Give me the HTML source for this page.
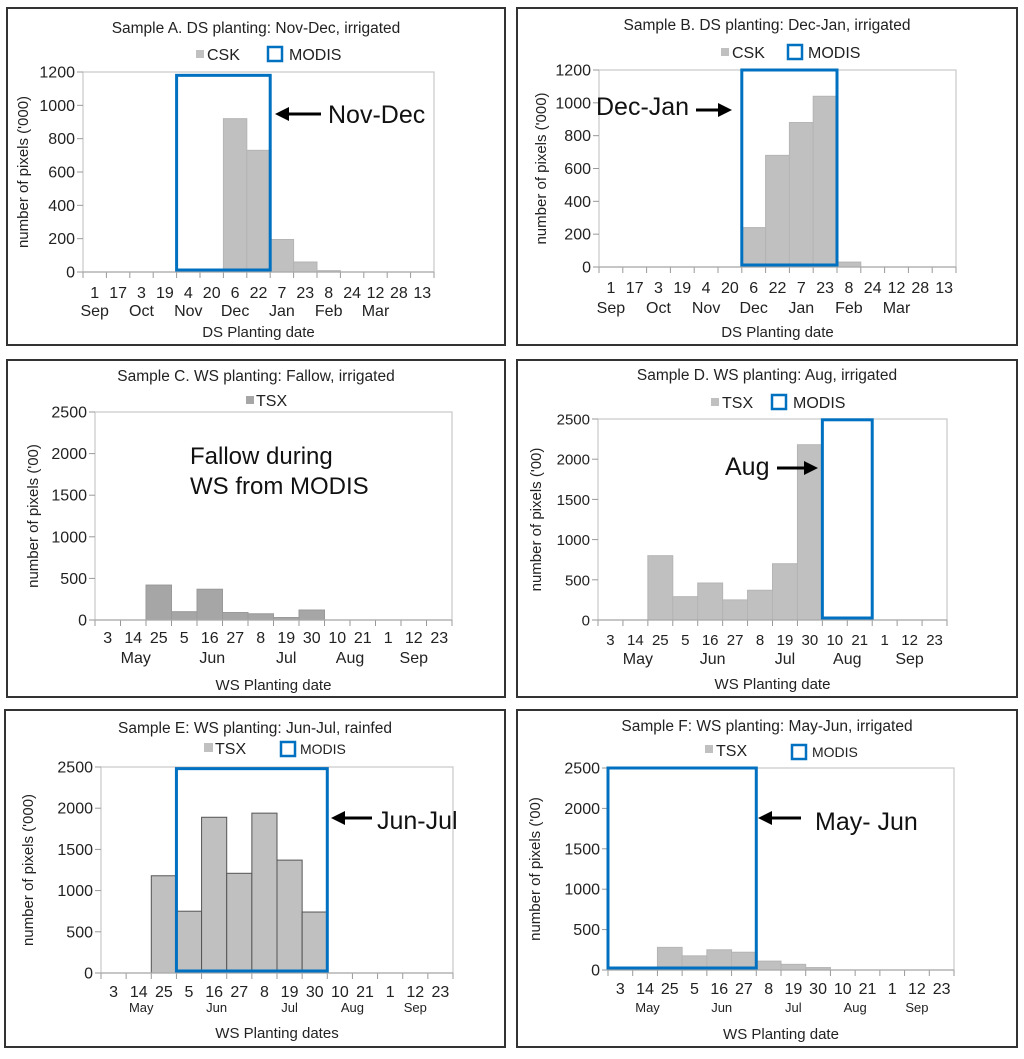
<!DOCTYPE html>
<html><head><meta charset="utf-8"><style>
html,body{margin:0;padding:0;background:#fff;}
svg{display:block;font-family:"Liberation Sans",Arial,sans-serif;}
</style></head><body>
<svg id="fig" width="1024" height="1059" viewBox="0 0 1024 1059" xmlns="http://www.w3.org/2000/svg"></svg>
<script>
// ---- Data ----
const dsCats = ["1","17","3","19","4","20","6","22","7","23","8","24","12","28","13"];
const dsMonths = ["Sep","Oct","Nov","Dec","Jan","Feb","Mar"];
const dsMonthPos = [0.5,2.5,4.5,6.5,8.5,10.5,12.5];
const dsTicksY = [0,200,400,600,800,1000,1200];
const wsCats = ["3","14","25","5","16","27","8","19","30","10","21","1","12","23"];
const wsMonths = ["May","Jun","Jul","Aug","Sep"];
const wsMonthPos = [1.6,4.6,7.5,10,12.5];
const wsTicksY = [0,500,1000,1500,2000,2500];

const valuesA = [0,0,0,0,0,0,920,730,195,60,8,0,0,0,0];
const modisA = [4,8,1180];
const valuesB = [0,0,0,0,0,0,240,680,880,1040,30,0,0,0,0];
const modisB = [6,10,1200];
const valuesC = [0,0,420,100,370,90,75,30,120,0,0,0,0,0];
const valuesD = [0,0,800,290,460,250,370,700,2180,0,0,0,0,0];
const modisD = [9,11,2490];
const valuesE = [0,0,1180,750,1890,1210,1940,1370,740,0,0,0,0,0];
const modisE = [3,9,2480];
const valuesF = [0,0,280,175,250,220,110,70,30,0,0,0,0,0];
const modisF = [0,6,2500];

const NS="http://www.w3.org/2000/svg";
const fig=document.getElementById('fig');
function mk(tag,attrs,parent,text){const e=document.createElementNS(NS,tag);for(const k in attrs)e.setAttribute(k,attrs[k]);if(text!==undefined)e.textContent=text;(parent||fig).appendChild(e);return e;}

function chart(c){
  const g=mk('g',{});
  
  
  const fr=mk('rect',{x:c.box[0],y:c.box[1],width:c.box[2]-c.box[0],height:c.box[3]-c.box[1],fill:'#fff',stroke:'#333','stroke-width':2},g);
  
  
  const cx=(c.box[0]+c.box[2])/2;
  const t=mk('text',{x:c.titleX||cx,y:c.titleY,'font-size':15.5,'text-anchor':'middle',fill:'#222'},g,c.title);
  
  
  const [x0,x1,y0,y1]=c.plot;
  const n=c.cats.length, w=(x1-x0)/n, ymax=c.ticksY[c.ticksY.length-1];
  const X=i=>x0+i*w;
  const Y=v=>y1-(v/ymax)*(y1-y0);
  const pr=mk('rect',{x:x0,y:y0,width:x1-x0,height:y1-y0,fill:'none',stroke:'#c8c8c8','stroke-width':1.2},g);
  
  
  c.ticksY.forEach(v=>{
    mk('line',{x1:x0-6,x2:x0,y1:Y(v),y2:Y(v),stroke:'#999'},g);
    const tl=mk('text',{x:x0-8,y:Y(v)+5.5,'font-size':c.tickFs||16,'text-anchor':'end',fill:'#222'},g,String(v));
    
    
  });
  for(let i=0;i<=n;i++) mk('line',{x1:X(i),x2:X(i),y1:y1,y2:y1+6,stroke:'#999'},g);
  c.cats.forEach((s,i)=>{
    const tl=mk('text',{x:X(i+0.5),y:c.tickLabY,'font-size':c.tickFs||16,'text-anchor':'middle',fill:'#222'},g,s);
    
    
  });
  c.months.forEach((m,i)=>{
    const ml=mk('text',{x:X(c.monthPos[i]),y:c.monthY,'font-size':c.monthFs||16,'text-anchor':'middle',fill:'#222'},g,m);
    
    
  });
  c.values.forEach((v,i)=>{
    if(v<=0)return;
    const b=mk('rect',{x:X(i),y:Y(v),width:w,height:y1-Y(v),fill:c.barFill,stroke:c.barStroke,'stroke-width':c.barStrokeW||1},g);
    
    
  });
  mk('line',{x1:x0-6,x2:x1,y1:y1,y2:y1,stroke:'#aaa','stroke-width':1.2},g);
  if(c.modis){
    const [a,b,top]=c.modis;
    const m=mk('rect',{x:X(a),y:Y(top),width:X(b)-X(a),height:(y1-2)-Y(top),fill:'none',stroke:'#0070c0','stroke-width':3},g);
    
    
  }
  const yt=mk('text',{x:0,y:0,'font-size':15,'text-anchor':'middle',fill:'#222',transform:`translate(${c.yLabX},${(y0+y1)/2}) rotate(-90)`},g,c.yLabel);
  
  
  const xt=mk('text',{x:(x0+x1)/2,y:c.xTitleY,'font-size':15,'text-anchor':'middle',fill:'#222'},g,c.xLabel);
  
  
  const L=c.legend;
  const ls=mk('rect',{x:L.sq[0],y:L.sq[1],width:L.sq[2],height:L.sq[2],fill:c.barFill,stroke:c.legStroke||'none'},g);
  
  
  const lt=mk('text',{x:L.t1[0],y:L.t1[1],'font-size':L.fs||16,fill:'#222'},g,L.label);
  
  
  if(L.mb){
    const mb=mk('rect',{x:L.mb[0],y:L.mb[1],width:L.mb[2],height:L.mb[2],fill:'none',stroke:'#0070c0','stroke-width':2.5},g);
    
    
    const mt=mk('text',{x:L.t2[0],y:L.t2[1],'font-size':L.fs2||L.fs||16,fill:'#222'},g,'MODIS');
    
    
  }
  if(c.ann){
    const A=c.ann;
    A.lines.forEach((s,i)=>{
      const at=mk('text',{x:A.x,y:A.y+i*30,'font-size':A.fs||25,fill:'#111'},g,s);
      
      
    });
    if(A.arrow){
      const [ax1,ax2,ay]=A.arrow;
      const dir=ax2>ax1?1:-1;
      mk('line',{x1:ax1,y1:ay,x2:ax2-dir*12,y2:ay,stroke:'#000','stroke-width':3},g);
      const ah=mk('polygon',{points:`${ax2},${ay} ${ax2-dir*14},${ay-7} ${ax2-dir*14},${ay+7}`,fill:'#000'},g);
      
      
    }
  }
}

chart({name:'chart-sample-a',box:[7,8,505,345],title:'Sample A. DS planting: Nov-Dec, irrigated',titleY:33,
  plot:[83,434,72,272],cats:dsCats,values:valuesA,modis:modisA,ticksY:dsTicksY,months:dsMonths,monthPos:dsMonthPos,
  tickLabY:298,monthY:316,xTitleY:337,yLabX:28,yLabel:"number of pixels ('000)",xLabel:'DS Planting date',
  barFill:'#c0c0c0',barStroke:'#b4b4b4',
  legend:{sq:[196,50,8],t1:[207,60],label:'CSK',mb:[268,47,14],t2:[289,60]},
  ann:{x:328,y:123,lines:['Nov-Dec'],arrow:[321,275,114]}});

chart({name:'chart-sample-b',box:[517,8,1017,345],title:'Sample B. DS planting: Dec-Jan, irrigated',titleY:30,
  plot:[599,956,70,267],cats:dsCats,values:valuesB,modis:modisB,ticksY:dsTicksY,months:dsMonths,monthPos:dsMonthPos,
  tickLabY:293,monthY:313,xTitleY:337,yLabX:546,yLabel:"number of pixels ('000)",xLabel:'DS Planting date',
  barFill:'#c0c0c0',barStroke:'#b4b4b4',
  legend:{sq:[721,48,8],t1:[732,58],label:'CSK',mb:[788,45,14],t2:[808,58]},
  ann:{x:596,y:115,lines:['Dec-Jan'],arrow:[696,732,110]}});

chart({name:'chart-sample-c',box:[7,360,505,697],title:'Sample C. WS planting: Fallow, irrigated',titleY:381,
  plot:[95,452,412,620],cats:wsCats,values:valuesC,ticksY:wsTicksY,months:wsMonths,monthPos:wsMonthPos,
  tickLabY:643,monthY:663,xTitleY:690,yLabX:38,yLabel:"number of pixels ('00)",xLabel:'WS Planting date',
  barFill:'#a6a6a6',barStroke:'#999',
  legend:{sq:[246,396,8],t1:[256,406],label:'TSX'},
  ann:{x:190,y:464,lines:['Fallow during','WS from MODIS'],fs:24}});

chart({name:'chart-sample-d',box:[517,360,1017,697],title:'Sample D. WS planting: Aug, irrigated',titleY:380,
  plot:[598,947,419,620],cats:wsCats,values:valuesD,modis:modisD,ticksY:wsTicksY,months:wsMonths,monthPos:wsMonthPos,
  tickLabY:645,monthY:664,xTitleY:689,yLabX:541,yLabel:"number of pixels ('00)",xLabel:'WS Planting date',
  barFill:'#c0c0c0',barStroke:'#b4b4b4',tickFs:15,
  legend:{sq:[711,398,8],t1:[722,408],label:'TSX',mb:[772,395,14],t2:[793,408]},
  ann:{x:725,y:475,lines:['Aug'],arrow:[777,818,468]}});

chart({name:'chart-sample-e',box:[5,710,505,1047],title:'Sample E: WS planting: Jun-Jul, rainfed',titleY:733,
  plot:[101,453,767,973],cats:wsCats,values:valuesE,modis:modisE,ticksY:wsTicksY,months:wsMonths,monthPos:wsMonthPos,
  tickLabY:997,monthY:1012,xTitleY:1038,yLabX:33,yLabel:"number of pixels ('000)",xLabel:'WS Planting dates',
  barFill:'#c0c0c0',barStroke:'#555',monthFs:13,
  legend:{sq:[204,743,9],t1:[215,754],label:'TSX',legStroke:'#555',mb:[281,742,14],t2:[300,754],fs2:14},
  ann:{x:377,y:829,lines:['Jun-Jul'],arrow:[372,331,818]}});

chart({name:'chart-sample-f',box:[517,710,1017,1047],title:'Sample F: WS planting: May-Jun, irrigated',titleY:731,
  plot:[608,954,768,970],cats:wsCats,values:valuesF,modis:modisF,ticksY:wsTicksY,months:wsMonths,monthPos:wsMonthPos,
  tickLabY:994,monthY:1012,xTitleY:1039,yLabX:540,yLabel:"number of pixels ('00)",xLabel:'WS Planting date',
  barFill:'#c0c0c0',barStroke:'#b4b4b4',monthFs:13,
  legend:{sq:[705,745,8],t1:[716,756],label:'TSX',mb:[792,745,14],t2:[812,757],fs2:14},
  ann:{x:815,y:830,lines:['May- Jun'],arrow:[801,758,818]}});
</script>
</body></html>
